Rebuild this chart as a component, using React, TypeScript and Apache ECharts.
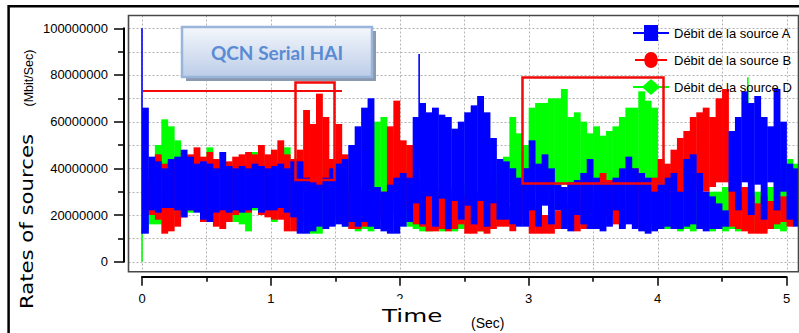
import React, { useEffect, useRef } from "react";
import * as echarts from "echarts";

// ---------- data ----------
const NAME_A = "Débit de la source A";
const NAME_B = "Débit de la source B";
const NAME_D = "Débit de la source D";

// sampling step of the bins (seconds); bin k covers [k*DT, (k+1)*DT]
const DT = 0.05;

// upper / lower envelope of each source inside each bin, in millions (bit/s)
const hiA = [
  66, 45, 43, 40, 44, 45, 48, 45, 42, 43,
  42, 40, 47, 41, 40, 41, 40, 42, 41, 40,
  41, 42, 40, 43, 43, 36, 34, 33, 36, 40,
  42, 44, 50, 58, 66, 70, 32, 30, 33, 36,
  38, 36, 62, 68, 64, 66, 63, 62, 57, 60,
  64, 67, 71, 64, 53, 44, 43, 40, 36, 40,
  52, 42, 46, 40, 33, 32, 34, 35, 38, 44,
  36, 34, 34, 36, 40, 45, 40, 38, 36, 30,
  34, 36, 38, 30, 44, 46, 38, 30, 28, 25,
  22, 56, 62, 73, 68, 71, 62, 58, 74, 60,
  42, 40,
];
const loA = [
  12, 22, 21, 23, 23, 22, 19, 22, 21, 18,
  17, 21, 22, 21, 22, 21, 22, 23, 21, 22,
  22, 23, 21, 19, 12, 12, 13, 15, 14, 15,
  16, 15, 17, 15, 17, 15, 14, 13, 12, 12,
  15, 17, 25, 16, 28, 15, 27, 14, 26, 18,
  24, 16, 26, 15, 25, 18, 18, 16, 15, 15,
  22, 15, 24, 16, 22, 14, 13, 20, 16, 14,
  14, 13, 15, 22, 14, 16, 14, 13, 12, 13,
  14, 15, 14, 14, 15, 16, 14, 13, 14, 14,
  15, 30, 22, 34, 20, 33, 18, 34, 22, 30,
  18, 15,
];
const hiB = [
  35, 40, 46, 42, 43, 43, 42, 46, 49, 45,
  47, 44, 40, 43, 45, 46, 47, 46, 50, 46,
  48, 52, 46, 44, 48, 65, 59, 72, 62, 44,
  59, 46, 30, 32, 32, 29, 28, 30, 58, 69,
  52, 50, 44, 35, 32, 29, 31, 29, 32, 29,
  28, 28, 30, 25, 26, 25, 24, 22, 28, 40,
  26, 22, 20, 18, 22, 25, 30, 28, 34, 24,
  30, 38, 35, 30, 28, 35, 40, 34, 32, 36,
  44, 42, 48, 53, 56, 62, 64, 66, 62, 70,
  74, 35, 30, 32, 28, 25, 28, 26, 25, 28,
  25, 26,
];
const loB = [
  22, 20, 18, 12, 13, 15, 19, 22, 23, 17,
  19, 15, 14, 17, 20, 23, 21, 23, 20, 19,
  18, 18, 13, 13, 16, 30, 28, 30, 32, 25,
  20, 17, 14, 14, 15, 16, 18, 18, 22, 25,
  25, 22, 16, 15, 13, 13, 14, 13, 14, 16,
  12, 12, 13, 12, 14, 15, 15, 13, 16, 18,
  12, 12, 12, 12, 14, 15, 14, 13, 14, 14,
  14, 22, 20, 16, 15, 18, 18, 15, 15, 16,
  25, 28, 30, 28, 30, 30, 32, 30, 32, 34,
  34, 15, 14, 13, 12, 12, 12, 14, 16, 17,
  15, 16,
];
const hiD = [
  35, 36, 50, 61, 58, 52, 43, 42, 43, 40,
  49, 42, 40, 42, 40, 40, 42, 47, 42, 45,
  44, 42, 49, 42, 35, 30, 28, 30, 44, 44,
  38, 36, 32, 30, 30, 30, 60, 62, 55, 35,
  50, 33, 30, 30, 30, 30, 30, 30, 30, 30,
  33, 30, 30, 32, 35, 42, 45, 62, 55, 50,
  66, 68, 68, 70, 70, 74, 62, 64, 60, 55,
  58, 54, 56, 58, 62, 66, 66, 73, 69, 66,
  38, 30, 30, 28, 28, 30, 28, 28, 30, 30,
  32, 30, 30, 28, 30, 30, 30, 32, 36, 40,
  44, 42,
];
const loD = [
  14, 16, 16, 18, 20, 19, 22, 21, 22, 21,
  25, 22, 22, 21, 17, 16, 13, 22, 23, 24,
  17, 22, 22, 24, 15, 17, 12, 12, 15, 17,
  18, 15, 15, 13, 14, 13, 30, 28, 25, 18,
  17, 15, 14, 13, 13, 14, 13, 15, 13, 14,
  15, 14, 13, 14, 15, 25, 25, 28, 30, 28,
  32, 30, 33, 32, 30, 33, 30, 32, 34, 30,
  33, 32, 33, 32, 32, 33, 33, 34, 33, 35,
  25, 14, 15, 13, 14, 13, 14, 15, 13, 14,
  13, 14, 13, 15, 13, 14, 13, 15, 14, 13,
  22, 20,
];
// isolated thin spikes: [time (s), low (M), high (M)]
const spikesA = [[0, 12, 100], [2.15, 40, 89]];
const spikesB: number[][] = [];
const spikesD = [[0, 0, 14], [4.7, 40, 79]];

// axis ticks / grid values
const yLabelTicks = [0, 20, 40, 60, 80, 100]; // millions
const yGridValues = [0, 10, 20, 30, 40, 50, 60, 70, 80, 90, 100]; // millions
const xGridValues = [0, 0.5, 1, 1.5, 2, 2.5, 3, 3.5, 4, 4.5, 5];

// ---------- styles / layout ----------
const BLUE = "#0000ff";
const RED = "#ff0000";
const GREEN = "#00ff00";
const ANNOT = "#f20a0a";
const ARIAL = '"Liberation Sans", Arial, sans-serif';
const FRAME = { l: 128.5, t: 15.5, r: 797.5, b: 271.7 };

const ICON_A = "path://M0,7L11,7L11,0L25,0L25,7L36,7L36,9L25,9L25,16L11,16L11,9L0,9Z";
const ICON_B = "path://M0,7L10.5,7A7.5,8,0,0,1,25.5,7L36,7L36,9L25.5,9A7.5,8,0,0,1,10.5,9L0,9Z";
const ICON_D = "path://M0,7L10,7L18,0L26,7L36,7L36,9L26,9L18,16L10,9L0,9Z";

function buildData(hi: number[], lo: number[], spikes: number[][]) {
  const out: number[][] = hi.map((h, i) => [i * DT, lo[i] * 1e6, h * 1e6, DT]);
  spikes.forEach(([t, l, h]) => out.push([t, l * 1e6, h * 1e6, 0]));
  return out;
}

function makeRender(color: string) {
  return (_p: any, api: any) => {
    const t = api.value(0);
    const lo = api.value(1);
    const hi = api.value(2);
    const w = api.value(3);
    const p1 = api.coord([t, hi]);
    const p2 = api.coord([t + w, lo]);
    const x = w > 0 ? p1[0] : p1[0] - 0.8;
    const width = w > 0 ? p2[0] - p1[0] + 0.4 : 1.6;
    return {
      type: "rect",
      shape: { x, y: p1[1], width, height: p2[1] - p1[1] },
      style: { fill: color },
      silent: true,
    };
  };
}

export default function App() {
  const ref = useRef<HTMLDivElement>(null);

  useEffect(() => {
    if (!ref.current) return;
    const chart = echarts.init(ref.current, undefined, { renderer: "svg" });

    const hGrid = {
      type: "custom",
      coordinateSystem: "cartesian2d",
      silent: true,
      clip: false,
      z: 1,
      data: yGridValues.map((v) => [0, v * 1e6]),
      encode: { x: 0, y: 1 },
      renderItem: (_p: any, api: any) => {
        const y = Math.round(api.coord([0, api.value(1)])[1]) + 0.5;
        return {
          type: "line",
          shape: { x1: FRAME.l, y1: y, x2: FRAME.r, y2: y },
          style: { stroke: "#b3b3b3", lineWidth: 1, lineDash: [2, 2] },
        };
      },
    };
    const vGrid = {
      type: "custom",
      coordinateSystem: "cartesian2d",
      silent: true,
      clip: false,
      z: 1,
      data: xGridValues.map((v) => [v, 0]),
      encode: { x: 0, y: 1 },
      renderItem: (_p: any, api: any) => {
        const x = Math.round(api.coord([api.value(0), 0])[0]) + 0.5;
        return {
          type: "line",
          shape: { x1: x, y1: FRAME.t, x2: x, y2: FRAME.b },
          style: { stroke: "#b3b3b3", lineWidth: 1, lineDash: [2, 2] },
        };
      },
    };

    const mkSeries = (name: string, color: string, data: number[][], z: number) => ({
      type: "custom",
      name,
      coordinateSystem: "cartesian2d",
      clip: false,
      z,
      itemStyle: { color },
      dimensions: ["t", "lo", "hi", "w"],
      encode: { x: 0, y: [1, 2] },
      data,
      renderItem: makeRender(color),
    });

    const gradient = new echarts.graphic.LinearGradient(0, 0, 0, 1, [
      { offset: 0, color: "#f4f7fc" },
      { offset: 1, color: "#bccde8" },
    ]);

    chart.setOption({
      animation: false,
      backgroundColor: "#ffffff",
      grid: {
        left: 142,
        top: 28.3,
        width: 644.5,
        height: 233.4,
        containLabel: false,
        outerBoundsMode: "none",
      },
      xAxis: {
        type: "value",
        min: 0,
        max: 5,
        interval: 1,
        offset: 15,
        position: "bottom",
        axisLine: { show: true, onZero: false, lineStyle: { color: "#000", width: 2 } },
        axisTick: { show: true, length: 9, lineStyle: { color: "#000", width: 1.5 } },
        minorTick: { show: true, splitNumber: 2, length: 5, lineStyle: { color: "#000", width: 1.5 } },
        axisLabel: {
          show: true,
          margin: 15,
          fontSize: 13,
          color: "#000",
          fontFamily: ARIAL,
          showMinLabel: true,
          showMaxLabel: true,
        },
        splitLine: { show: false },
        minorSplitLine: { show: false },
      },
      yAxis: {
        type: "value",
        min: yLabelTicks[0] * 1e6,
        max: yLabelTicks[yLabelTicks.length - 1] * 1e6,
        interval: (yLabelTicks[1] - yLabelTicks[0]) * 1e6,
        offset: 18,
        position: "left",
        axisLine: { show: true, onZero: false, lineStyle: { color: "#000", width: 2 } },
        axisTick: { show: true, length: 10, lineStyle: { color: "#000", width: 1.5 } },
        minorTick: { show: true, splitNumber: 2, length: 6, lineStyle: { color: "#000", width: 1.5 } },
        axisLabel: {
          show: true,
          margin: 16,
          fontSize: 13,
          color: "#000",
          fontFamily: ARIAL,
          formatter: (v: number) => String(Math.round(v)),
          showMinLabel: true,
          showMaxLabel: true,
        },
        splitLine: { show: false },
        minorSplitLine: { show: false },
      },
      legend: {
        orient: "vertical",
        left: 633,
        top: 25,
        padding: 0,
        itemWidth: 36,
        itemHeight: 16,
        itemGap: 11,
        selectedMode: false,
        z: 10,
        textStyle: { fontSize: 13, color: "#000", fontFamily: ARIAL },
        data: [
          { name: NAME_A, icon: ICON_A },
          { name: NAME_B, icon: ICON_B },
          { name: NAME_D, icon: ICON_D },
        ],
      },
      series: [
        hGrid,
        vGrid,
        mkSeries(NAME_D, GREEN, buildData(hiD, loD, spikesD), 2),
        mkSeries(NAME_B, RED, buildData(hiB, loB, spikesB), 3),
        mkSeries(NAME_A, BLUE, buildData(hiA, loA, spikesA), 4),
      ],
      graphic: [
        // outer picture border
        { type: "line", z: 100, shape: { x1: 8.6, y1: 6.2, x2: 799, y2: 6.2 }, style: { stroke: "#000", lineWidth: 2.5 } },
        { type: "line", z: 100, shape: { x1: 8.6, y1: 5, x2: 8.6, y2: 333 }, style: { stroke: "#000", lineWidth: 2.5 } },
        // plot frame
        {
          type: "rect",
          z: 100,
          shape: { x: FRAME.l, y: FRAME.t, width: FRAME.r - FRAME.l + 1, height: FRAME.b - FRAME.t },
          style: { fill: "none", stroke: "#474747", lineWidth: 1.6 },
        },
        // title box
        { type: "rect", z: 101, shape: { x: 186, y: 31, width: 190, height: 50 }, style: { fill: "#8b99ae" } },
        {
          type: "rect",
          z: 102,
          shape: { x: 182, y: 27, width: 190, height: 50 },
          style: { fill: gradient, stroke: "#9ab5da", lineWidth: 2.5 },
        },
        {
          type: "text",
          z: 103,
          x: 277,
          y: 52,
          style: {
            text: "QCN Serial HAI",
            fontSize: 19,
            fontWeight: "bold",
            fontFamily: "Lato, 'Open Sans', sans-serif",
            fill: "#5a8bd3",
            textAlign: "center",
            textVerticalAlign: "middle",
            align: "center",
            verticalAlign: "middle",
          },
        },
        // red annotations
        { type: "line", z: 104, shape: { x1: 143, y1: 91, x2: 342, y2: 91 }, style: { stroke: ANNOT, lineWidth: 2 } },
        {
          type: "rect",
          z: 104,
          shape: { x: 295.5, y: 82.5, width: 39, height: 97.5 },
          style: { fill: "none", stroke: ANNOT, lineWidth: 2.5 },
        },
        {
          type: "rect",
          z: 104,
          shape: { x: 522.5, y: 77.5, width: 141, height: 106 },
          style: { fill: "none", stroke: ANNOT, lineWidth: 2.5 },
        },
        // white patch behind the x title
        { type: "rect", z: 105, shape: { x: 372, y: 299, width: 148, height: 34 }, style: { fill: "#fff" } },
        // axis titles
        {
          type: "text",
          z: 106,
          x: 27,
          y: 221.5,
          rotation: Math.PI / 2,
          scaleX: 1.18,
          style: {
            text: "Rates of sources",
            fontSize: 18,
            fontFamily: "'DejaVu Sans', sans-serif",
            fill: "#000",
            textAlign: "center",
            textVerticalAlign: "middle",
            align: "center",
            verticalAlign: "middle",
          },
        },
        {
          type: "text",
          z: 106,
          x: 29,
          y: 78,
          rotation: Math.PI / 2,
          style: {
            text: "(Mbit/Sec)",
            fontSize: 12.5,
            fontFamily: ARIAL,
            fill: "#000",
            textAlign: "center",
            textVerticalAlign: "middle",
            align: "center",
            verticalAlign: "middle",
          },
        },
        {
          type: "text",
          z: 106,
          x: 382,
          y: 315.5,
          scaleX: 1.37,
          style: {
            text: "Time",
            fontSize: 18,
            fontFamily: "'DejaVu Sans', sans-serif",
            fill: "#000",
            textAlign: "left",
            textVerticalAlign: "middle",
            align: "left",
            verticalAlign: "middle",
          },
        },
        {
          type: "text",
          z: 106,
          x: 471,
          y: 323,
          style: {
            text: "(Sec)",
            fontSize: 14,
            fontFamily: ARIAL,
            fill: "#000",
            textAlign: "left",
            textVerticalAlign: "middle",
            align: "left",
            verticalAlign: "middle",
          },
        },
      ],
    });

    return () => {
      chart.dispose();
    };
  }, []);

  return (
    <div
      ref={ref}
      style={{ position: "absolute", left: 0, top: 0, width: 799, height: 333, background: "#fff" }}
    />
  );
}
